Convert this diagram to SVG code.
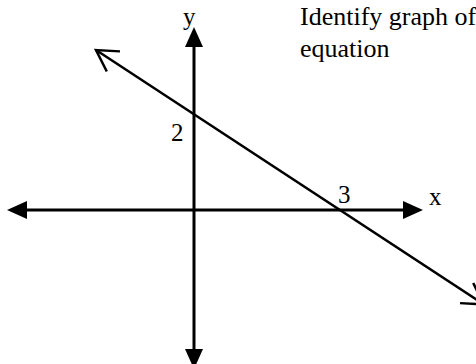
<svg xmlns="http://www.w3.org/2000/svg" width="476" height="364" viewBox="0 0 476 364">
<style>
.axis{stroke:#000;stroke-width:3;fill:none}
.line{stroke:#000;stroke-width:2.5;fill:none}
</style>
<defs>
<marker id="solid" markerUnits="userSpaceOnUse" viewBox="0 0 20 18" refX="0" refY="9" markerWidth="20" markerHeight="18" orient="auto">
<path d="M0,0 L20,9 L0,18 Z" fill="#000"/>
</marker>
<marker id="open" markerUnits="userSpaceOnUse" viewBox="-26 -14 28 28" refX="0" refY="0" markerWidth="28" markerHeight="28" orient="auto-start-reverse" overflow="visible">
<path d="M-20.8,-12 L0,0 L-20.8,12" fill="none" stroke="#000" stroke-width="2.5"/>
</marker>
</defs>
<g id="connectors">
<line class="axis" x1="194" y1="210" x2="27" y2="210" marker-end="url(#solid)"/>
<line class="axis" x1="194" y1="210" x2="403" y2="210" marker-end="url(#solid)"/>
<line class="axis" x1="194" y1="210" x2="194" y2="47" marker-end="url(#solid)"/>
<line class="axis" x1="194" y1="210" x2="194" y2="349" marker-end="url(#solid)"/>
<line class="line" x1="96" y1="50" x2="484" y2="304.5" marker-start="url(#open)" marker-end="url(#open)"/>
</g>
<g font-family="'Liberation Serif', 'Times New Roman', serif" font-size="25" fill="#000">
<g id="labels">
<text x="183" y="25">y</text>
<text x="429" y="205">x</text>
<text x="171" y="141">2</text>
<text x="338" y="203">3</text>
</g>
<g id="title" font-size="26">
<text x="300" y="25">Identify graph of</text>
<text x="300" y="57">equation</text>
</g>
</g>
</svg>
